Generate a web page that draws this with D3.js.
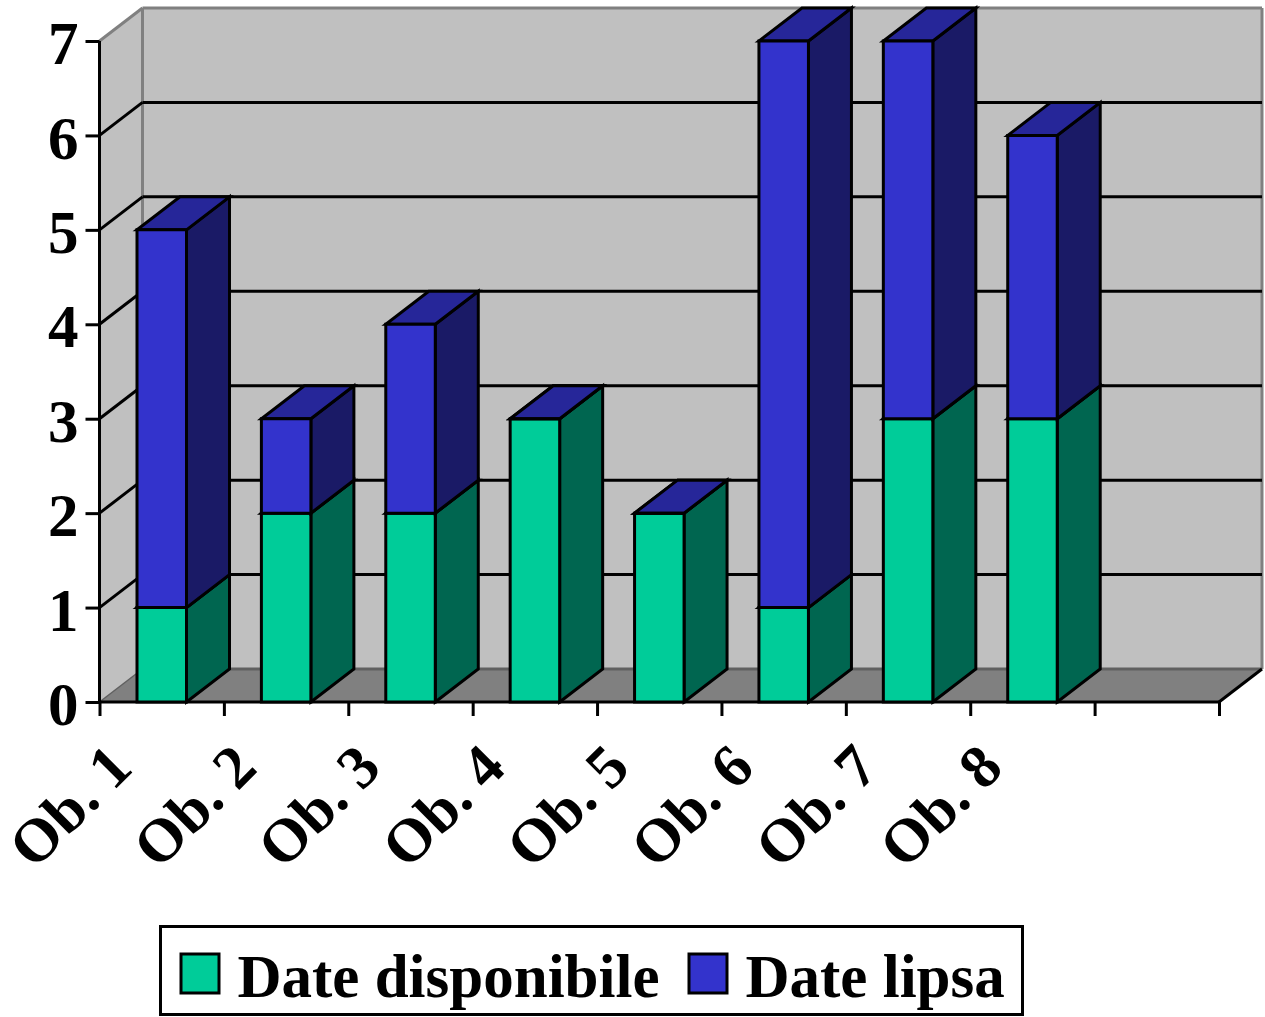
<!DOCTYPE html>
<html><head><meta charset="utf-8">
<script src="https://cdn.jsdelivr.net/npm/d3@7/dist/d3.min.js"></script>
<style>html,body{margin:0;background:#fff}svg{display:block}text{font-family:"Liberation Serif",serif;font-weight:bold;fill:#000}</style>
</head><body><svg id="c" width="1265" height="1017"></svg>
<script>
const categories = ["Ob. 1","Ob. 2","Ob. 3","Ob. 4","Ob. 5","Ob. 6","Ob. 7","Ob. 8"];
const emptySlot = [" "];
const dateDisponibile = [1,2,2,3,2,1,3,3];
const dateLipsa = [4,1,2,0,0,6,4,3];
const yTicks = [0,1,2,3,4,5,6,7];
const legendLabels = ["Date disponibile","Date lipsa"];

const svg = d3.select("#c");
const dx = 43, dy = -33, barPad = 37.5, barW = 49.5;
const x = d3.scaleBand().domain(categories.concat(emptySlot)).range([99.5,1219]);
const y = d3.scaleLinear().domain([0,7]).range([702,41]);
const L = x.range()[0], R = x.range()[1], y0 = y(0), yT = y(7);
const pts = a => a.map(p=>p.join(",")).join(" ");
const poly = (p,fill,stroke,sw)=>svg.append("polygon").attr("points",pts(p)).attr("fill",fill)
  .attr("stroke",stroke||"none").attr("stroke-width",sw||0).attr("stroke-linejoin","miter");
const line = (a,b,c,sw)=>svg.append("line").attr("x1",a[0]).attr("y1",a[1]).attr("x2",b[0]).attr("y2",b[1]).attr("stroke",c).attr("stroke-width",sw);

// walls
poly([[L+dx,yT+dy],[R+dx,yT+dy],[R+dx,y0+dy],[L+dx,y0+dy]],"#c0c0c0");
poly([[L,yT],[L+dx,yT+dy],[L+dx,y0+dy],[L,y0]],"#c0c0c0");
poly([[L,y0],[L+dx,y0+dy],[R+dx,y0+dy],[R,y0]],"#808080");
line([L+dx,yT+dy],[R+dx,yT+dy],"#808080",3);
line([R+dx,yT+dy],[R+dx,y0+dy],"#808080",3);
line([L+dx,yT+dy],[L+dx,y0+dy],"#808080",3);
line([L,yT],[L+dx,yT+dy],"#808080",3);
line([L+dx,y0+dy],[R+dx,y0+dy],"#606060",3);
line([L,y0],[L+dx,y0+dy],"#606060",1.5);
line([R,y0],[R+dx,y0+dy],"#000",3);

// gridlines
yTicks.filter(t=>t>0&&t<7).forEach(t=>{
  line([L,y(t)],[L+dx,y(t)+dy],"#000",3);
  line([L+dx,y(t)+dy],[R+dx,y(t)+dy],"#000",3);
});

// axes
const yAxis = d3.axisLeft(y).tickValues(yTicks).tickSize(14).tickPadding(1).tickFormat(d3.format("d"));
const gy = svg.append("g").attr("transform",`translate(${L},0)`).call(yAxis);
gy.select(".domain").attr("stroke","#000").attr("stroke-width",3).attr("d",`M0,${yT}V${y0}`);
gy.selectAll("line").attr("stroke","#000").attr("stroke-width",3);
gy.selectAll("text").attr("font-size",61).attr("dy","0.37em").style("font-family",'"Liberation Serif",serif').style("font-weight","bold").attr("x",-21);

const xEdges = x.domain().map(d=>x(d)).concat([R]);
const axX = d3.axisBottom(d3.scaleLinear().domain([L,R]).range([L,R])).tickValues(xEdges).tickSize(14).tickFormat("");
const gx = svg.append("g").attr("transform",`translate(0,${y0})`).call(axX);
gx.select(".domain").attr("stroke","#000").attr("stroke-width",3).attr("d",`M${L},0H${R}`);
gx.selectAll("line").attr("stroke","#000").attr("stroke-width",3);

// bars
function bar(cat,a,b,front,side,top){
  const X = x(cat)+barPad, W = barW, ya = y(a), yb = y(b), s=3;
  poly([[X+W,ya],[X+W+dx,ya+dy],[X+W+dx,yb+dy],[X+W,yb]],side,"#000",s);
  poly([[X,yb],[X+W,yb],[X+W+dx,yb+dy],[X+dx,yb+dy]],top,"#000",s);
  poly([[X,ya],[X+W,ya],[X+W,yb],[X,yb]],front,"#000",s);
}
categories.forEach((c,i)=>{
  const a = dateDisponibile[i], b = dateLipsa[i];
  bar(c,0,a,"#00cc99","#006650","#00a67c");
  bar(c,a,a+b,"#3333cc","#1a1a66","#262699");
});

// category labels
categories.forEach(c=>{
  const px = x(c)+4, py = 739;
  svg.append("text").text(c).attr("font-size",61).attr("text-anchor","end")
    .attr("transform",`translate(${px},${py}) rotate(-45)`).attr("dy","0.72em");
});

// legend
svg.append("rect").attr("x",160.5).attr("y",926.5).attr("width",862).attr("height",88).attr("fill","#fff").attr("stroke","#000").attr("stroke-width",3);
const legendX = [[181,237.5,"#00cc99"],[689,745.5,"#3333cc"]];
legendLabels.forEach((t,i)=>{
  svg.append("rect").attr("x",legendX[i][0]).attr("y",954).attr("width",38).attr("height",39).attr("fill",legendX[i][2]).attr("stroke","#000").attr("stroke-width",3);
  svg.append("text").text(t).attr("x",legendX[i][1]).attr("y",997).attr("font-size",61);
});
</script></body></html>
